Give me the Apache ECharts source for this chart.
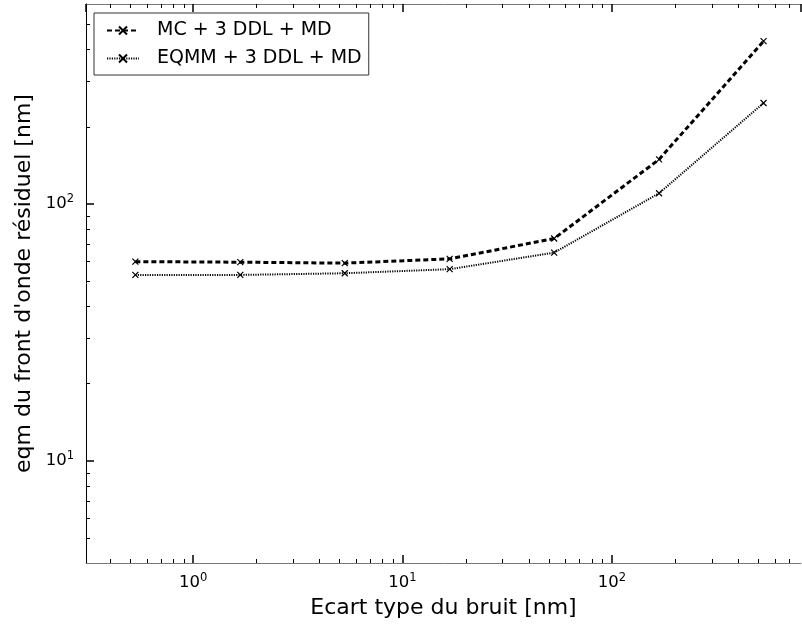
<!DOCTYPE html>
<html>
<head>
<meta charset="utf-8">
<script src="https://cdn.jsdelivr.net/npm/echarts@6/dist/echarts.min.js"></script>
<style>
html,body{margin:0;padding:0;background:#fff;}
#chart{width:802px;height:625px;}
</style>
</head>
<body>
<div id="chart"></div>
<script>
// ---- data ----
const noiseStd = [0.53, 1.68, 5.3, 16.8, 53, 168, 530];
const mcValues = [59.6, 59.3, 58.8, 61.1, 73.3, 149, 430];
const eqmmValues = [52.9, 52.9, 53.7, 55.7, 64.6, 110, 247];
const seriesNames = ['MC + 3 DDL + MD', 'EQMM + 3 DDL + MD'];
const xMinorTicks = [0.4,0.5,0.6,0.7,0.8,0.9,2,3,4,5,6,7,8,9,20,30,40,50,60,70,80,90,200,300,400,500,600,700];
const yMinorTicks = [5,6,7,8,9,20,30,40,50,60,70,80,90,200,300,400,500];
const xRange = [0.308, 800];
const yRange = [4, 600];

const FONT = 'DejaVu Sans';
const crossPath = 'path://M0,0L10,10M0,10L10,0';

const chart = echarts.init(document.getElementById('chart'), null, {renderer: 'canvas'});

function powLabel(v) {
  const e = Math.round(Math.log10(v));
  return '{b|10}{s|' + e + '}';
}
const richLbl = {
  b: {fontSize: 16.5, fontFamily: FONT, color: '#000'},
  s: {fontSize: 11.5, fontFamily: FONT, color: '#000', padding: [0, 0, 9, 0]}
};

const majorTick = {show: true, inside: true, length: 8, lineStyle: {color: '#000', width: 1.5}};

const option = {
  animation: false,
  backgroundColor: '#fff',
  grid: {left: 86, top: 4, right: 1, bottom: 62, containLabel: false},
  legend: {
    show: true,
    orient: 'vertical',
    left: 94, top: 13,
    data: seriesNames,
    itemWidth: 32, itemHeight: 10, itemGap: 7,
    padding: [7, 7, 6, 12],
    borderColor: '#333', borderWidth: 1, borderRadius: 0,
    backgroundColor: '#fff',
    textStyle: {fontSize: 19, fontFamily: FONT, color: '#000', lineHeight: 21, padding: [0, 0, 0, 13]}
  },
  xAxis: [{
    type: 'log', logBase: 10, min: xRange[0], max: xRange[1],
    position: 'bottom',
    name: 'Ecart type du bruit [nm]', nameLocation: 'middle', nameGap: 34,
    nameTextStyle: {fontSize: 22, fontFamily: FONT, color: '#000'},
    axisLine: {show: true, lineStyle: {color: '#777', width: 1}},
    axisTick: majorTick,
    axisLabel: {show: true, margin: 9, formatter: powLabel, rich: richLbl, showMinLabel: false, showMaxLabel: false},
    splitLine: {show: false}, minorTick: {show: false}
  }, {
    type: 'log', logBase: 10, min: xRange[0], max: xRange[1],
    position: 'top',
    axisLine: {show: true, lineStyle: {color: '#777', width: 1}},
    axisTick: majorTick,
    axisLabel: {show: false},
    splitLine: {show: false}
  }],
  yAxis: [{
    type: 'log', logBase: 10, min: yRange[0], max: yRange[1],
    position: 'left',
    name: "eqm du front d'onde résiduel [nm]", nameLocation: 'middle', nameGap: 49,
    nameTextStyle: {fontSize: 22, fontFamily: FONT, color: '#000'},
    axisLine: {show: true, lineStyle: {color: '#000', width: 1}},
    axisTick: majorTick,
    axisLabel: {show: true, margin: 12, formatter: powLabel, rich: richLbl, showMinLabel: false, showMaxLabel: false},
    splitLine: {show: false}
  }],
  series: [{
    name: seriesNames[0], type: 'line',
    data: noiseStd.map((x, i) => [x, mcValues[i]]),
    symbol: crossPath, symbolSize: 6, showAllSymbol: true,
    lineStyle: {color: '#000', width: 3, type: [5, 3]},
    itemStyle: {color: '#000', borderColor: '#000', borderWidth: 1.2},
    z: 3
  }, {
    name: seriesNames[1], type: 'line',
    data: noiseStd.map((x, i) => [x, eqmmValues[i]]),
    symbol: crossPath, symbolSize: 6, showAllSymbol: true,
    lineStyle: {color: '#000', width: 2, type: [1.2, 1.2]},
    itemStyle: {color: '#000', borderColor: '#000', borderWidth: 1.2},
    z: 3
  }]
};
chart.setOption(option);

// minor ticks, positioned through the axes' own scales
const graphics = [];
const minorStyle = {stroke: '#000', lineWidth: 1};
const mlen = 4;
xMinorTicks.forEach(v => {
  const px = chart.convertToPixel({xAxisIndex: 0}, v);
  const x = Math.round(px) + 0.5;
  const yb = chart.convertToPixel({yAxisIndex: 0}, yRange[0]);
  const yt = chart.convertToPixel({yAxisIndex: 0}, yRange[1]);
  graphics.push({type: 'line', shape: {x1: x, y1: yb, x2: x, y2: yb - mlen}, style: minorStyle, silent: true, z: 10});
  graphics.push({type: 'line', shape: {x1: x, y1: yt, x2: x, y2: yt + mlen}, style: minorStyle, silent: true, z: 10});
});
yMinorTicks.forEach(v => {
  const py = chart.convertToPixel({yAxisIndex: 0}, v);
  const y = Math.round(py) + 0.5;
  const xl = chart.convertToPixel({xAxisIndex: 0}, xRange[0]);
  graphics.push({type: 'line', shape: {x1: xl, y1: y, x2: xl + mlen, y2: y}, style: minorStyle, silent: true, z: 10});
});
chart.setOption({graphic: graphics});
</script>
</body>
</html>
